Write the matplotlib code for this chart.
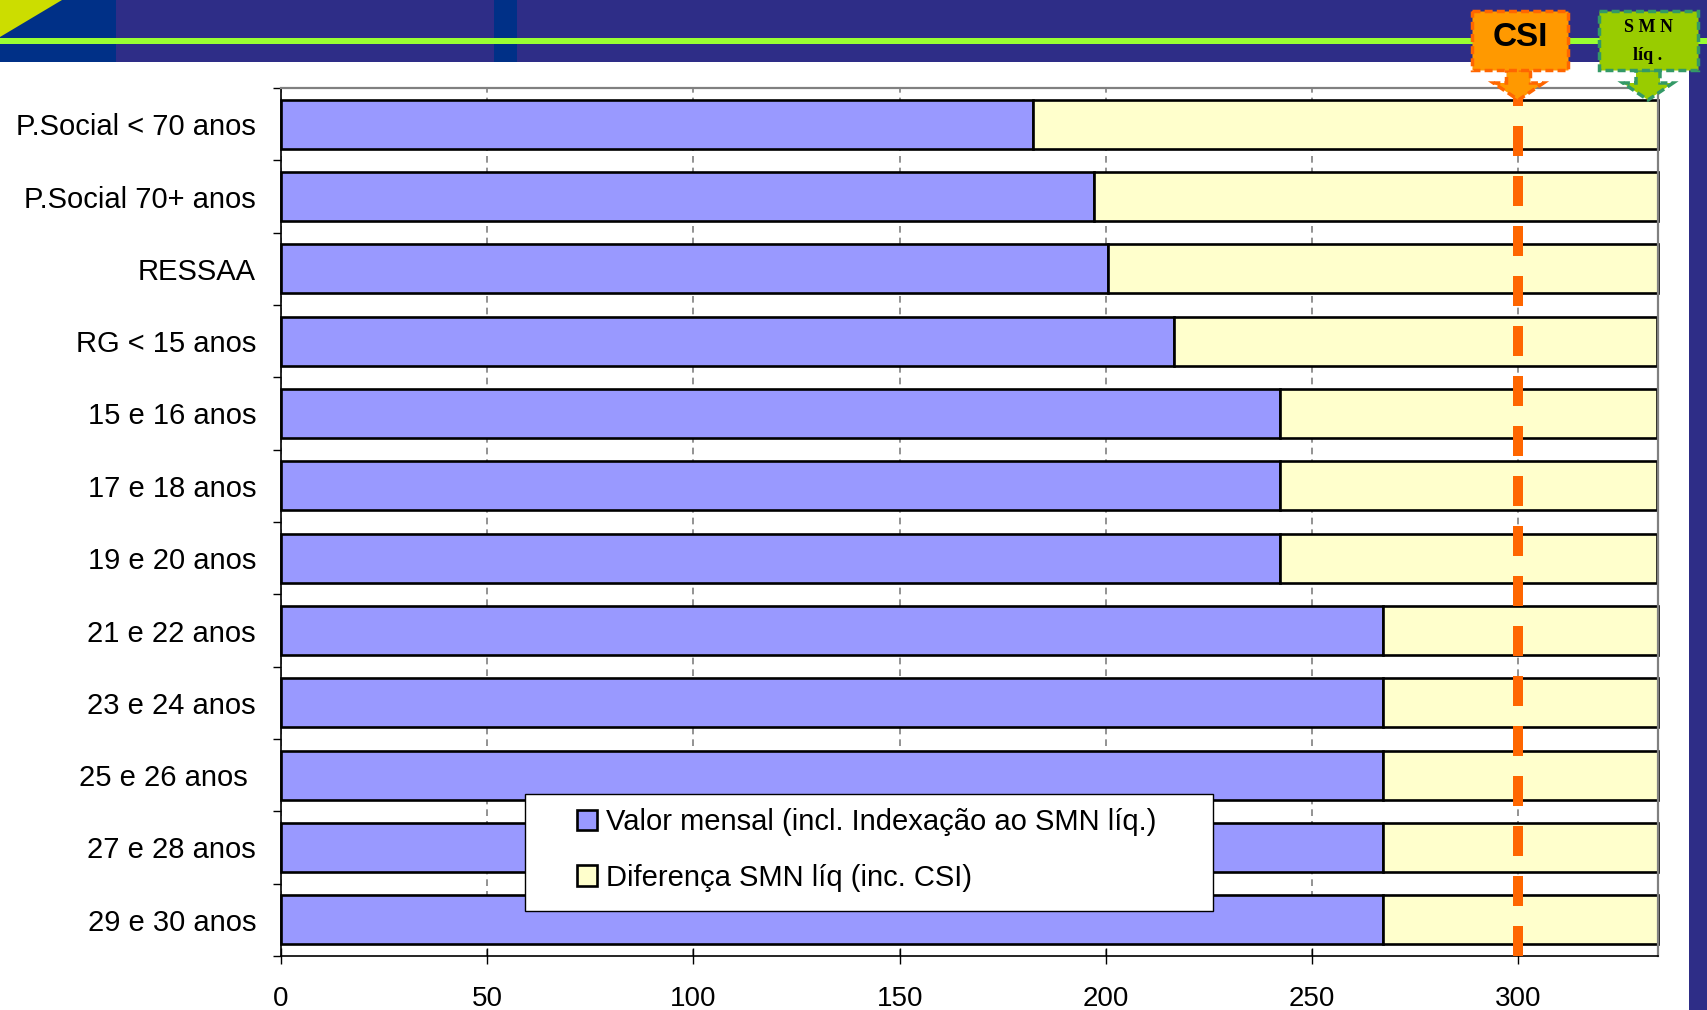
import matplotlib
matplotlib.use('Agg')
import matplotlib.pyplot as plt
from matplotlib.patches import Rectangle, Polygon
import numpy as np

plt.rcParams['font.family'] = ['Liberation Sans', 'DejaVu Sans']

# dados
categorias = ['P.Social < 70 anos', 'P.Social 70+ anos', 'RESSAA', 'RG < 15 anos',
              '15 e 16 anos', '17 e 18 anos', '19 e 20 anos', '21 e 22 anos',
              '23 e 24 anos', '25 e 26 anos ', '27 e 28 anos', '29 e 30 anos']
valor_mensal = [182.2, 197.0, 200.5, 216.6, 242.1, 242.1, 242.1,
                267.1, 267.1, 267.1, 267.1, 267.1]
smn_liq = 333.7   # SMN líquido
csi = 300         # Complemento Solidário para Idosos
x_ticks = [0, 50, 100, 150, 200, 250, 300]
legenda = ['Valor mensal (incl. Indexação ao SMN líq.)', 'Diferença SMN líq (inc. CSI)']

diferenca = [smn_liq - v for v in valor_mensal]

W, H = 1707, 1010
fig = plt.figure(figsize=(W / 100, H / 100), dpi=100)
ax = fig.add_axes([281 / W, 1 - 956 / H, (1657.5 - 281) / W, 868 / H])

y = np.arange(len(categorias))
b1 = ax.barh(y, valor_mensal, height=0.68, color='#9999FF', edgecolor='black',
             linewidth=1.9, zorder=2, clip_on=False)
b2 = ax.barh(y, diferenca, left=valor_mensal, height=0.68, color='#FFFFCC',
             edgecolor='black', linewidth=1.9, zorder=2, clip_on=False)

ax.set_xlim(0, smn_liq)
ax.set_ylim(len(categorias) - 0.5, -0.5)

# linha do CSI
ax.axvline(csi, color='#FF6600', lw=7.2, dashes=(3, 2), zorder=3)

# grelha vertical
ax.set_axisbelow(True)
ax.xaxis.grid(True, color='#808080', linestyle=(0, (4, 3)), linewidth=1.2)

ax.set_xticks(x_ticks)
ax.tick_params(axis='x', direction='inout', length=11, width=1, labelsize=20, pad=16)
ax.set_yticks(y)
ax.set_yticklabels(categorias)
ax.set_yticks(np.arange(-0.5, len(categorias), 1), minor=True)
ax.tick_params(axis='y', which='major', length=0, labelsize=21, pad=18)
ax.tick_params(axis='y', which='minor', direction='out', length=6, width=1)

for s in ['top', 'right']:
    ax.spines[s].set_color('#808080')
    ax.spines[s].set_linewidth(1.6)
for s in ['left', 'bottom']:
    ax.spines[s].set_color('black')
    ax.spines[s].set_linewidth(1.2)

# caixa da legenda
ax.add_patch(Rectangle((525 / W, 1 - 911 / H), 688 / W, 117 / H, transform=fig.transFigure,
                       facecolor='white', edgecolor='black', linewidth=1, zorder=5, clip_on=False))
fig.legend([b1, b2], legenda, loc='upper left', bbox_to_anchor=(577 / W, 1 - 808 / H),
           frameon=False, fontsize=21, handlelength=0.7, handleheight=0.7,
           handletextpad=0.3, labelspacing=0.95, borderpad=0, borderaxespad=0)

# cabeçalho e etiquetas (coordenadas em pixeis)
ov = fig.add_axes([0, 0, 1, 1], zorder=10)
ov.set_xlim(0, W)
ov.set_ylim(H, 0)
ov.axis('off')
ov.patch.set_alpha(0)

navy = '#2E2D87'
azul = '#003087'
ov.add_patch(Rectangle((0, 0), W, 62, facecolor=navy, edgecolor='none'))
ov.add_patch(Rectangle((0, 0), 116, 62, facecolor=azul, edgecolor='none'))
ov.add_patch(Polygon([(0, 0), (62, 0), (0, 37)], facecolor='#CCDD00', edgecolor='none'))
ov.add_patch(Rectangle((494, 0), 23, 62, facecolor=azul, edgecolor='none'))
ov.add_patch(Rectangle((0, 38), W, 5.6, facecolor='#99FF33', edgecolor='none'))
ov.add_patch(Rectangle((1689, 62), W - 1689, H - 62, facecolor=navy, edgecolor='none'))

tracejado = (0, (2.3, 1.2))
cx = ax.transData.transform((csi, 0))[0]


def seta(xc, fc, ec):
    pts = [(xc - 12, 70), (xc + 12, 70), (xc + 12, 83), (xc + 25, 83),
           (xc, 100), (xc - 25, 83), (xc - 12, 83)]
    ov.add_patch(Polygon(pts, facecolor=fc, edgecolor=ec, lw=2.5, ls=tracejado))


seta(cx, '#FF9900', '#FF6600')
ov.add_patch(Rectangle((1472, 11), 96, 59, facecolor='#FF9900', edgecolor='#FF6600',
                       lw=2.5, ls=tracejado))
ov.text(1520, 38, 'CSI', fontsize=24, fontweight='bold', ha='center', va='center')

seta(1648, '#99CC00', '#339966')
ov.add_patch(Rectangle((1599, 11), 99, 59, facecolor='#99CC00', edgecolor='#339966',
                       lw=2.5, ls=tracejado))
ov.text(1648, 28, 'S M N', fontsize=13, fontweight='bold', family='Liberation Serif',
        ha='center', va='center')
ov.text(1648, 56, 'líq .', fontsize=13, fontweight='bold', family='Liberation Serif',
        ha='center', va='center')

fig.savefig('out.png', dpi=100)
